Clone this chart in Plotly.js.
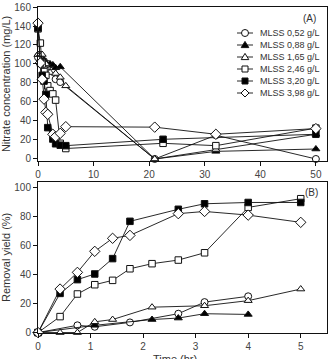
<!DOCTYPE html>
<html><head><meta charset="utf-8">
<script src="https://cdn.plot.ly/plotly-3.0.1.min.js"></script>
<style>html,body{margin:0;padding:0;background:#fff}#chart{width:330px;height:359px}</style>
</head><body><div id="chart"></div>
<script>
// Series labels
const seriesLabels = ['MLSS 0,52 g/L','MLSS 0,88 g/L','MLSS 1,65 g/L','MLSS 2,46 g/L','MLSS 3,20 g/L','MLSS 3,98 g/L'];

// Panel A: nitrate concentration (mg/L) vs time (hr)
const tA_052 = [0, 0.75, 1.08, 1.75, 2.67, 3.17, 4, 21, 32, 50];
const cA_052 = [107, 102, 103, 100, 93, 84, 81, 0, 25, 0];
const tA_088 = [0, 1.08, 2.17, 2.67, 3.17, 4, 21, 32, 50];
const cA_088 = [110, 104, 100, 99, 96, 97, 0, 8, 10.5];
const tA_165 = [0, 0.42, 0.75, 1.08, 1.42, 2.17, 3.17, 4, 5, 21, 32, 50];
const cA_165 = [110, 110, 110, 102, 100, 91, 90, 86, 77, 0, 10, 26];
const tA_246 = [0, 0.42, 0.75, 1.08, 1.42, 1.75, 2.17, 2.67, 3.17, 4, 5, 22.5, 32, 50];
const cA_246 = [137, 122, 100, 92, 88, 77, 72, 68.5, 62, 16.5, 11, 16.5, 14, 32.5];
const tA_320 = [0, 0.42, 0.75, 1.08, 1.42, 1.75, 2.67, 3.17, 4, 5, 22.5, 50];
const cA_320 = [138, 101, 88, 82, 68, 33, 21, 16, 14.5, 14, 20.7, 26];
const tA_398 = [0, 0.42, 0.75, 1.08, 1.42, 1.75, 2.67, 3.17, 4, 5, 21, 32, 50];
const cA_398 = [143, 101, 84, 63, 49, 47, 26, 23.5, 27, 34, 33.5, 26, 32];

// Panel B: removal yield (%) vs time (hr)
const tB_052 = [0, 0.75, 1.08, 1.75, 2.67, 3.17, 4];
const yB_052 = [0, 5, 4, 7, 13, 21, 25];
const tB_088 = [0, 1.08, 2.17, 2.67, 3.17, 4];
const yB_088 = [0, 5, 9, 10, 13, 12.5];
const tB_165 = [0, 0.42, 0.75, 1.08, 1.42, 2.17, 3.17, 4, 5];
const yB_165 = [0, 0, 0, 7.4, 9, 17.5, 18.5, 22, 30];
const tB_246 = [0, 0.42, 0.75, 1.08, 1.42, 1.75, 2.17, 2.67, 3.17, 4, 5];
const yB_246 = [0, 11, 26.6, 33, 36, 44, 47.5, 50, 55, 86.3, 92.3];
const tB_320 = [0, 0.42, 0.75, 1.08, 1.42, 1.75, 2.67, 3.17, 4, 5];
const yB_320 = [0, 27, 36.5, 40.4, 51, 76.7, 85, 88.8, 89.7, 89.7];
const tB_398 = [0, 0.42, 0.75, 1.08, 1.42, 1.75, 2.67, 3.17, 4, 5];
const yB_398 = [0, 30, 41.5, 56, 65, 67, 82, 83.5, 81, 76];

const tickA_x = [0, 10, 20, 30, 40, 50];
const tickA_y = [0, 20, 40, 60, 80, 100, 120, 140, 160];
const tickB_x = [0, 1, 2, 3, 4, 5];
const tickB_y = [0, 20, 40, 60, 80, 100];

const symbols = ['circle', 'triangle-up', 'triangle-up', 'square', 'square', 'diamond'];
const fills = ['white', 'black', 'white', 'white', 'black', 'white'];
const sizes = [7, 7, 7, 6.5, 6.5, 8];

const panelA = [[tA_052, cA_052], [tA_088, cA_088], [tA_165, cA_165], [tA_246, cA_246], [tA_320, cA_320], [tA_398, cA_398]];
const panelB = [[tB_052, yB_052], [tB_088, yB_088], [tB_165, yB_165], [tB_246, yB_246], [tB_320, yB_320], [tB_398, yB_398]];

const traces = [];
function mk(d, i, xa, ya) {
  return {
    x: d[0], y: d[1], xaxis: xa, yaxis: ya, type: 'scatter', mode: 'lines+markers',
    name: seriesLabels[i], showlegend: false, cliponaxis: false,
    line: {color: '#111', width: 0.9},
    marker: {symbol: symbols[i], size: sizes[i], color: fills[i], line: {color: '#111', width: 1}}
  };
}
panelA.forEach((d, i) => traces.push(mk(d, i, 'x', 'y')));
panelB.forEach((d, i) => traces.push(mk(d, i, 'x2', 'y2')));

// manual compact legend (layout elements)
const L = 38, R = 327, T = 7, B = 333;
const px = v => (v - L) / (R - L);
const py = v => (B - v) / (B - T);
const legendRows = [33, 45, 57, 69, 81, 93];
const shapes = [];
const annotations = [];
const glyphPaths = {
  'circle': null,
  'triangle-up': 'M -3.8 -2.6 L 3.8 -2.6 L 0 3.6 Z',
  'square': 'M -3 -3 L 3 -3 L 3 3 L -3 3 Z',
  'diamond': 'M -4 0 L 0 4 L 4 0 L 0 -4 Z'
};
legendRows.forEach((r, i) => {
  shapes.push({type: 'line', xref: 'paper', yref: 'paper', x0: px(237), x1: px(253), y0: py(r), y1: py(r), line: {color: '#111', width: 0.9}});
  const common = {xref: 'paper', yref: 'paper', xsizemode: 'pixel', ysizemode: 'pixel', xanchor: px(245), yanchor: py(r),
    fillcolor: fills[i], line: {color: '#111', width: 1}};
  if (symbols[i] === 'circle') {
    shapes.push(Object.assign({type: 'circle', x0: -3.5, x1: 3.5, y0: -3.5, y1: 3.5}, common));
  } else {
    shapes.push(Object.assign({type: 'path', path: glyphPaths[symbols[i]]}, common));
  }
  annotations.push({xref: 'paper', yref: 'paper', x: px(258), y: py(r), xanchor: 'left', yanchor: 'middle',
    text: seriesLabels[i], showarrow: false, font: {size: 9, color: '#333'}});
});
annotations.push({xref: 'paper', yref: 'paper', x: px(318), y: py(18), xanchor: 'right', yanchor: 'middle', text: '(A)', showarrow: false, font: {size: 10, color: '#333'}});
annotations.push({xref: 'paper', yref: 'paper', x: px(320), y: py(192), xanchor: 'right', yanchor: 'middle', text: '(B)', showarrow: false, font: {size: 10, color: '#333'}});
annotations.push({xref: 'paper', yref: 'paper', x: px(175), y: py(350.5), xanchor: 'center', yanchor: 'top', text: 'Time (hr)', showarrow: false, font: {size: 11, color: '#333'}});

const axBase = {showline: true, mirror: true, linecolor: '#111', linewidth: 1, ticks: 'outside', ticklen: 4, tickcolor: '#111',
  showgrid: false, zeroline: false, tickfont: {size: 10, color: '#444'}, automargin: false};

const layout = {
  width: 330, height: 359,
  margin: {l: L, r: 330 - R, t: T, b: 359 - B},
  paper_bgcolor: 'white', plot_bgcolor: 'white',
  font: {family: '"Liberation Sans", Arial, sans-serif', color: '#333'},
  showlegend: false,
  xaxis: Object.assign({}, axBase, {domain: [0, 1], anchor: 'y', range: [0, 52], tickvals: tickA_x}),
  yaxis: Object.assign({}, axBase, {domain: [0.528, 1], anchor: 'x', range: [-2, 160], tickvals: tickA_y,
    title: {text: 'Nitrate concentration (mg/L)', font: {size: 11, color: '#333'}}}),
  xaxis2: Object.assign({}, axBase, {domain: [0, 1], anchor: 'y2', range: [0, 5.5], tickvals: tickB_x}),
  yaxis2: Object.assign({}, axBase, {domain: [0, 0.464], anchor: 'x2', range: [-0.3, 104], tickvals: tickB_y,
    title: {text: 'Removal yield (%)', font: {size: 11, color: '#333'}}}),
  shapes: shapes,
  annotations: annotations
};

Plotly.newPlot('chart', traces, layout, {staticPlot: true, displayModeBar: false});
</script>
</body></html>
